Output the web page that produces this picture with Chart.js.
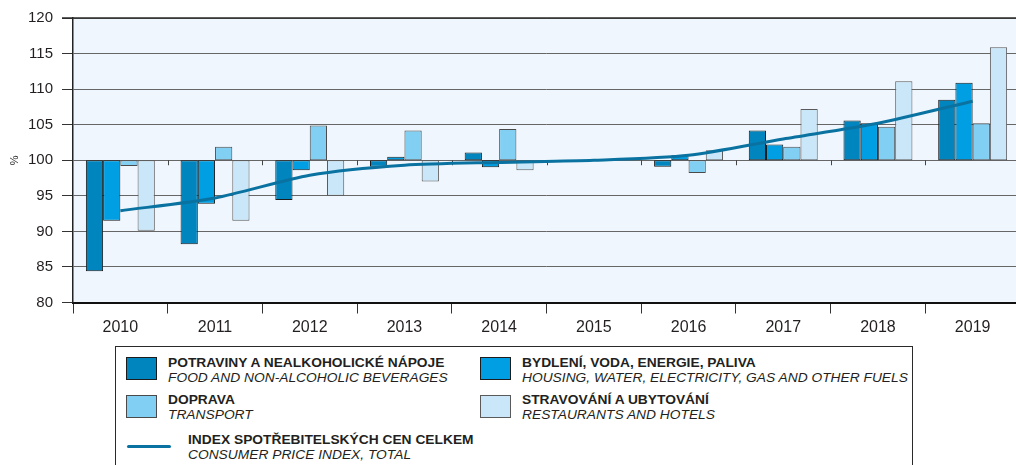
<!DOCTYPE html>
<html>
<head>
<meta charset="utf-8">
<script src="https://cdn.jsdelivr.net/npm/chart.js@4/dist/chart.umd.min.js"></script>
<style>
  html, body { margin: 0; padding: 0; background: #fff; width: 1016px; height: 465px; overflow: hidden; }
  #wrap { position: absolute; left: 0; top: 0; width: 1024px; height: 345px; }
  #legend { position: absolute; left: 115px; top: 346px; width: 798px; height: 140px; box-sizing: border-box;
            border: 1.5px solid #2a2a2a; }
  .sw { position: absolute; box-sizing: border-box; border: 1px solid #222; }
  .lt { position: absolute; font-family: "Liberation Sans", Arial, sans-serif; font-size: 13px; line-height: 15px; color: #231f20; white-space: nowrap;
        transform: scaleX(1.06); transform-origin: 0 0; }
  .lt b { font-weight: bold; display: block; }
  .lt i { font-style: italic; display: block; }
  .ln { position: absolute; height: 3px; border-radius: 1.5px; }
</style>
</head>
<body>
<div id="wrap"><canvas id="c" width="1024" height="345"></canvas></div>
<div id="legendHost"></div>
<script>
// ---- data ----
const years = ['2010','2011','2012','2013','2014','2015','2016','2017','2018','2019'];
const food        = [84.4, 88.2, 94.4, 99.1, 101.1, 100, 99.1, 104.2, 105.6, 108.5];
const housing     = [91.5, 93.9, 98.6, 100.5, 99.0, 100, 100.7, 102.2, 105.2, 110.9];
const transport   = [99.2, 101.9, 104.9, 104.2, 104.4, 100, 98.2, 101.9, 104.7, 105.2];
const restaurants = [90.1, 91.5, 95.0, 97.0, 98.6, 100, 101.4, 107.2, 111.1, 115.9];
const cpi         = [92.9, 94.7, 97.9, 99.3, 99.7, 100, 100.7, 103.0, 105.2, 108.3];
const baseValue = 100;
const yTicks = [80, 85, 90, 95, 100, 105, 110, 115, 120];
const namesCz = ['POTRAVINY A NEALKOHOLICKÉ NÁPOJE', 'BYDLENÍ, VODA, ENERGIE, PALIVA', 'DOPRAVA', 'STRAVOVÁNÍ A UBYTOVÁNÍ', 'INDEX SPOTŘEBITELSKÝCH CEN CELKEM'];
const namesEn = ['FOOD AND NON-ALCOHOLIC BEVERAGES', 'HOUSING, WATER, ELECTRICITY, GAS AND OTHER FUELS', 'TRANSPORT', 'RESTAURANTS AND HOTELS', 'CONSUMER PRICE INDEX, TOTAL'];
const yUnit = '%';

// ---- styles ----
const fills   = ['#0085bf', '#009fe3', '#82cff4', '#c9e7f9'];
const borders = ['#1c1c1c', '#1c1c1c', '#4a4a4a', '#5a5a5a'];
const lineColor = '#0a72a0';

const barSeries = [food, housing, transport, restaurants];
const datasets = barSeries.map((arr, i) => ({
  type: 'bar',
  label: namesCz[i],
  data: arr.map(v => [baseValue, v]),
  backgroundColor: fills[i],
  borderColor: borders[i],
  borderWidth: 1,
  borderSkipped: false,
  categoryPercentage: 0.728,
  barPercentage: 1.0,
  order: 2
}));
datasets.push({
  type: 'line',
  label: namesCz[4],
  data: cpi,
  borderColor: lineColor,
  borderWidth: 3,
  pointRadius: 0,
  tension: 0.25,
  fill: false,
  order: 0
});

const plotDecor = {
  id: 'plotDecor',
  beforeDraw(chart) {
    const {ctx, chartArea: a} = chart;
    ctx.save();
    ctx.fillStyle = '#eff6fd';
    ctx.fillRect(a.left, a.top, a.right - a.left, a.bottom - a.top);
    ctx.restore();
  },
  beforeDatasetsDraw(chart) {
    const {ctx} = chart;
    const x = chart.scales.x, y = chart.scales.y;
    const yb = y.getPixelForValue(baseValue);
    ctx.save();
    ctx.strokeStyle = '#444';
    ctx.lineWidth = 1;
    for (let i = 1; i < years.length; i++) {
      const xp = Math.round((x.getPixelForValue(i - 1) + x.getPixelForValue(i)) / 2) + 0.5;
      ctx.beginPath(); ctx.moveTo(xp, yb); ctx.lineTo(xp, yb + 5); ctx.stroke();
    }
    ctx.restore();
  },
  afterDraw(chart) {
    const {ctx, chartArea: a} = chart;
    ctx.save();
    ctx.strokeStyle = '#2a2a2a';
    ctx.lineWidth = 1.5;
    ctx.beginPath(); ctx.moveTo(a.left - 11, a.top); ctx.lineTo(chart.width, a.top); ctx.stroke();
    ctx.restore();
  }
};

new Chart(document.getElementById('c'), {
  data: { labels: years, datasets },
  options: {
    responsive: false,
    animation: false,
    layout: { padding: { top: 16, right: 4, left: 0, bottom: 0 } },
    plugins: { legend: { display: false }, tooltip: { enabled: false }, title: { display: false } },
    scales: {
      x: {
        offset: true,
        grid: { offset: true, drawOnChartArea: false, drawTicks: true, tickLength: 11, color: '#333', lineWidth: 1 },
        border: { color: '#111', width: 2 },
        ticks: { color: '#231f20', font: { family: 'Liberation Sans, Arial, sans-serif', size: 16 }, padding: 4 },
        afterFit(s) { s.height = 42.5; }
      },
      y: {
        min: 80, max: 120,
        afterBuildTicks(s) { s.ticks = yTicks.map(v => ({ value: v })); },
        grid: { color: '#666', lineWidth: 1, drawTicks: true, tickLength: 11, tickColor: '#333' },
        border: { color: '#222', width: 1.5 },
        ticks: { color: '#231f20', font: { family: 'Liberation Sans, Arial, sans-serif', size: 15 }, padding: 9 },
        title: { display: true, text: yUnit, color: '#231f20', font: { family: 'Liberation Sans, Arial, sans-serif', size: 11 }, padding: { top: 8, bottom: 0 } },
        afterFit(s) { s.width = 73; }
      }
    }
  },
  plugins: [plotDecor]
});

// ---- HTML legend built from the series names ----
const legendLayout = [
  { sx: 126, sy: 357, tx: 168, ty: 355 },
  { sx: 480, sy: 357, tx: 522, ty: 355 },
  { sx: 126, sy: 395, tx: 168, ty: 392 },
  { sx: 480, sy: 395, tx: 522, ty: 392 },
  { sx: 127, sy: 444.5, tx: 188, ty: 432 }
];
const host = document.getElementById('legendHost');
const box = document.createElement('div'); box.id = 'legend'; host.appendChild(box);
namesCz.forEach((nm, i) => {
  const L = legendLayout[i];
  if (i < 4) {
    const s = document.createElement('div'); s.className = 'sw';
    s.style.left = L.sx + 'px'; s.style.top = L.sy + 'px'; s.style.width = '31px'; s.style.height = '23px';
    s.style.background = fills[i]; s.style.borderColor = borders[i];
    host.appendChild(s);
  } else {
    const s = document.createElement('div'); s.className = 'ln';
    s.style.left = L.sx + 'px'; s.style.top = L.sy + 'px'; s.style.width = '44px'; s.style.background = lineColor;
    host.appendChild(s);
  }
  const t = document.createElement('div'); t.className = 'lt';
  t.style.left = L.tx + 'px'; t.style.top = L.ty + 'px';
  const b = document.createElement('b'); b.textContent = nm;
  const it = document.createElement('i'); it.textContent = namesEn[i];
  t.appendChild(b); t.appendChild(it);
  host.appendChild(t);
});
</script>
</body>
</html>
